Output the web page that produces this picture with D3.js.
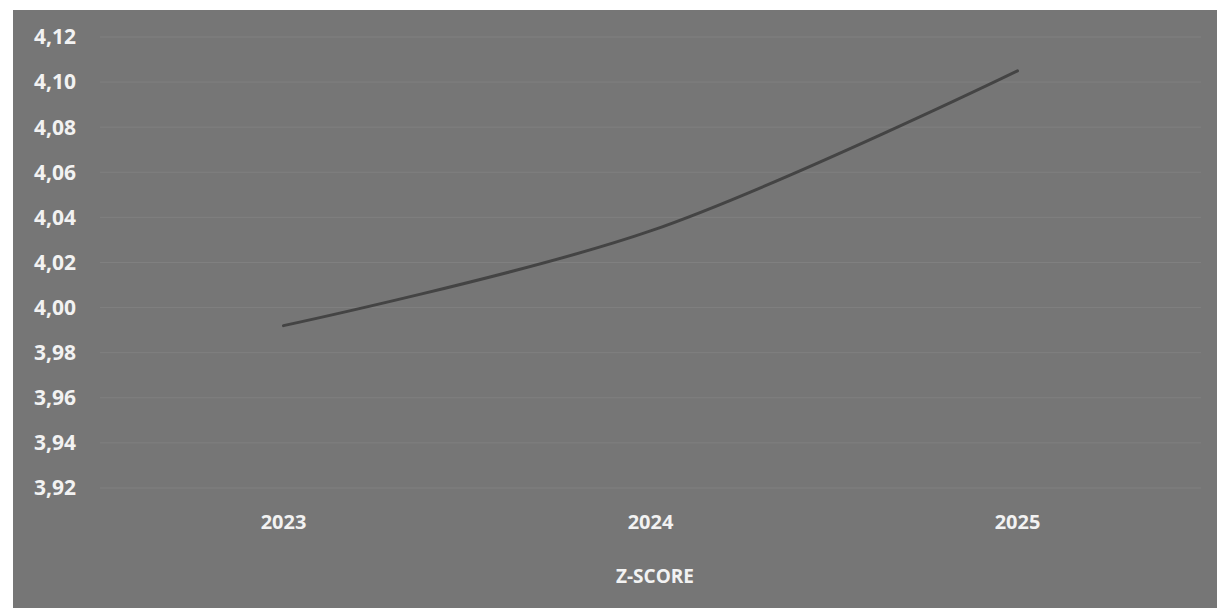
<!DOCTYPE html>
<html>
<head>
<meta charset="utf-8">
<script src="https://cdn.jsdelivr.net/npm/d3@7"></script>
<style>
  html, body { margin: 0; padding: 0; background: #fff; }
  svg { display: block; }
</style>
</head>
<body>
<div id="chart"></div>
<script>
const years = ['2023', '2024', '2025'];
const zScores = [3.992, 4.034, 4.105];
const yTicks = [3.92, 3.94, 3.96, 3.98, 4.00, 4.02, 4.04, 4.06, 4.08, 4.10, 4.12];
const axisTitle = 'Z-SCORE';

const width = 1217, height = 608;
const panel = { left: 13, top: 10 };

const svg = d3.select('#chart')
  .append('svg')
  .attr('width', width)
  .attr('height', height);

// gray chart area (photocopied look)
svg.append('rect')
  .attr('x', panel.left)
  .attr('y', panel.top)
  .attr('width', width - panel.left)
  .attr('height', height - panel.top)
  .attr('fill', '#767676');

const x = d3.scaleBand().domain(years).range([100, 1201]);
const y = d3.scaleLinear().domain([3.92, 4.12]).range([488, 37]);

const fmt = d => d3.format('.2f')(d).replace('.', ',');

// gridlines, very faint on the copy
svg.append('g')
  .selectAll('line')
  .data(yTicks)
  .join('line')
  .attr('x1', 100)
  .attr('x2', 1201)
  .attr('y1', d => y(d))
  .attr('y2', d => y(d))
  .attr('stroke', '#808080')
  .attr('stroke-width', 1);

// y tick labels
svg.append('g')
  .selectAll('text')
  .data(yTicks)
  .join('text')
  .attr('x', 34)
  .attr('y', d => y(d))
  .attr('dy', '0.35em')
  .text(fmt)
  .style('fill', '#f2f2f2')
  .style('font-family', 'Open Sans, sans-serif')
  .style('font-weight', 700)
  .style('font-size', '21px');

// x labels
svg.append('g')
  .selectAll('text')
  .data(years)
  .join('text')
  .attr('x', d => x(d) + x.bandwidth() / 2)
  .attr('y', 522)
  .attr('dy', '0.35em')
  .attr('text-anchor', 'middle')
  .text(d => d)
  .style('fill', '#f2f2f2')
  .style('font-family', 'Open Sans, sans-serif')
  .style('font-weight', 700)
  .style('font-size', '20px');

// axis title
svg.append('text')
  .attr('x', 655)
  .attr('y', 576)
  .attr('dy', '0.35em')
  .attr('text-anchor', 'middle')
  .text(axisTitle)
  .style('fill', '#f2f2f2')
  .style('font-family', 'Open Sans, sans-serif')
  .style('font-weight', 700)
  .style('font-size', '19px');

// smoothed line
const line = d3.line()
  .x((d, i) => x(years[i]) + x.bandwidth() / 2)
  .y(d => y(d))
  .curve(d3.curveCatmullRom.alpha(0.5));

svg.append('path')
  .datum(zScores)
  .attr('d', line)
  .attr('fill', 'none')
  .attr('stroke', '#444')
  .attr('stroke-width', 3)
  .attr('stroke-linecap', 'round');
</script>
</body>
</html>
